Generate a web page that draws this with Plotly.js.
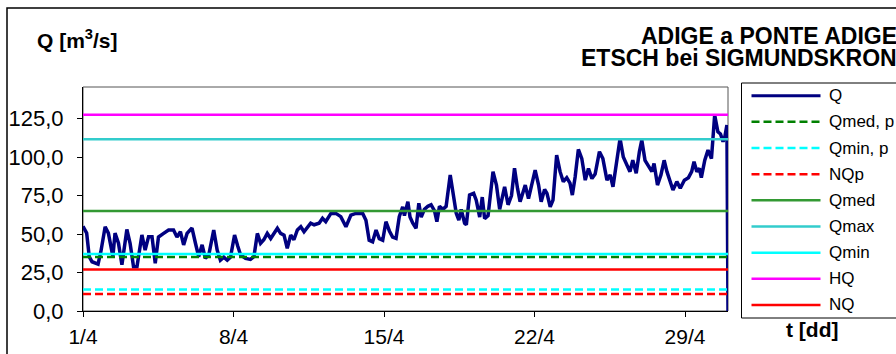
<!DOCTYPE html>
<html>
<head>
<meta charset="utf-8">
<script src="https://cdn.plot.ly/plotly-3.0.1.min.js"></script>
<style>
  html, body { margin: 0; padding: 0; background: #ffffff; }
  #chart { width: 896px; height: 354px; }
</style>
</head>
<body>
<div id="chart"></div>
<script>
// Discharge Q (m³/s); time in days counted from 1/4 00:00
const days = [
  0.00, 0.17, 0.29, 0.42, 0.70, 0.83, 1.03, 1.18, 1.39, 1.49, 1.65, 1.81,
  2.04, 2.19, 2.35, 2.51, 2.74, 2.89, 3.05, 3.21, 3.36, 3.51, 3.75, 3.98,
  4.21, 4.37, 4.53, 4.68, 4.84, 5.07, 5.23, 5.38, 5.54, 5.69, 5.85, 6.08,
  6.24, 6.39, 6.55, 6.71, 6.86, 7.05, 7.20, 7.33, 7.56, 7.79, 7.95, 8.11,
  8.26, 8.41, 8.57, 8.73, 9.04, 9.19, 9.35, 9.50, 9.66, 9.81, 9.97, 10.13,
  10.28, 10.44, 10.59, 10.75, 10.98, 11.14, 11.29, 11.53, 11.76, 11.99, 12.23, 12.46,
  12.69, 13.01, 13.16, 13.31, 13.47, 13.63, 13.78, 13.94, 14.09, 14.25, 14.40, 14.56,
  14.71, 14.87, 14.95, 15.11, 15.21, 15.34, 15.49, 15.62, 15.73, 15.88, 16.04, 16.19,
  16.35, 16.46, 16.58, 16.74, 16.89, 17.08, 17.20, 17.36, 17.48, 17.59, 17.75, 17.83,
  17.98, 18.17, 18.29, 18.45, 18.57, 18.68, 18.84, 19.07, 19.23, 19.38, 19.61, 19.77,
  19.93, 20.07, 20.21, 20.33, 20.57, 20.72, 21.03, 21.19, 21.31, 21.47, 21.58, 21.73,
  21.86, 22.03, 22.19, 22.34, 22.50, 22.65, 22.76, 22.89, 23.04, 23.20, 23.36, 23.51,
  23.67, 23.82, 24.02, 24.18, 24.37, 24.52, 24.65, 24.83, 24.98, 25.13, 25.32, 25.44,
  25.57, 25.73, 25.88, 25.99, 26.14, 26.30, 26.46, 26.56, 26.72, 26.88, 27.03, 27.16,
  27.31, 27.44, 27.62, 27.78, 27.97, 28.16, 28.31, 28.42, 28.55, 28.67, 28.76, 28.92,
  29.07, 29.23, 29.38, 29.53, 29.65, 29.77, 29.85, 29.95, 30.00
];
const flow = [
  55.0, 50.6, 35.3, 32.0, 30.5, 38.5, 54.7, 50.6, 35.3, 50.6, 44.0, 30.0,
  53.0, 44.0, 28.8, 28.8, 49.4, 39.6, 48.3, 48.3, 31.0, 48.0, 50.4, 52.6,
  52.6, 48.0, 51.5, 42.9, 50.4, 53.9, 44.0, 35.3, 43.0, 34.2, 36.5, 52.6,
  39.6, 33.0, 35.0, 33.0, 35.0, 49.4, 42.0, 36.4, 34.2, 33.5, 35.3, 50.4,
  44.0, 46.3, 50.4, 47.1, 53.7, 50.4, 49.3, 40.7, 49.3, 46.3, 52.6, 54.7,
  51.5, 54.7, 57.0, 56.0, 57.0, 60.2, 58.0, 63.4, 63.4, 61.3, 54.7, 62.3,
  63.4, 63.4, 59.0, 46.0, 45.0, 52.6, 47.0, 46.0, 58.0, 52.0, 48.0, 47.2,
  61.2, 67.7, 62.0, 71.0, 61.0, 57.0, 53.7, 70.0, 61.0, 66.0, 68.0, 69.0,
  65.0, 58.0, 68.0, 66.0, 68.0, 88.3, 76.4, 63.4, 59.0, 66.0, 57.0, 56.0,
  75.3, 76.4, 72.0, 61.0, 74.0, 60.0, 62.0, 90.5, 81.8, 66.0, 80.7, 69.0,
  75.0, 92.7, 79.6, 71.0, 81.8, 73.0, 91.5, 81.8, 71.0, 79.0, 76.4, 67.7,
  72.0, 101.3, 90.5, 84.0, 86.6, 83.0, 75.3, 87.0, 105.0, 99.0, 85.0, 92.6,
  86.0, 89.0, 103.5, 99.0, 85.0, 88.4, 80.7, 100.0, 112.0, 100.0, 94.6, 90.5,
  97.9, 89.5, 103.5, 111.0, 97.9, 93.7, 90.5, 95.8, 81.8, 88.4, 97.9, 90.5,
  84.0, 78.6, 84.0, 79.7, 85.0, 86.6, 90.5, 97.0, 90.5, 92.6, 86.6, 97.9,
  104.5, 99.0, 127.3, 116.4, 115.0, 110.0, 113.0, 120.8, 0.0
];

// Characteristic discharges (m³/s), drawn as horizontal levels
const refNames  = ['Qmed, p', 'Qmin, p', 'NQp', 'Qmed', 'Qmax', 'Qmin', 'HQ', 'NQ'];
const refValues = [35.0, 14.0, 11.0, 65.0, 111.5, 37.0, 127.5, 27.0];

// Time axis
const periodStart = 0;
const periodEnd = 30;
const tickDays   = [0, 7, 14, 21, 28];
const tickLabels = ['1/4', '8/4', '15/4', '22/4', '29/4'];
const yTicks = [0, 25, 50, 75, 100, 125];

// Line styles
const styles = {
  'Q':       { color: '#000080', width: 3.5, dash: 'solid' },
  'Qmed, p': { color: '#008000', width: 2.5, dash: '8px,4px' },
  'Qmin, p': { color: '#00ffff', width: 2.5, dash: '8px,4px' },
  'NQp':     { color: '#ff0000', width: 2.5, dash: '8px,4px' },
  'Qmed':    { color: '#339933', width: 2.5, dash: 'solid' },
  'Qmax':    { color: '#33cccc', width: 2.5, dash: 'solid' },
  'Qmin':    { color: '#00ffff', width: 2.5, dash: 'solid' },
  'HQ':      { color: '#ff00ff', width: 2.5, dash: 'solid' },
  'NQ':      { color: '#ff0000', width: 2.5, dash: 'solid' }
};

const FONT = 'Arial, "Liberation Sans", sans-serif';

const traces = [{
  type: 'scatter', mode: 'lines', name: 'Q',
  x: days, y: flow,
  line: { color: styles['Q'].color, width: styles['Q'].width, shape: 'linear' },
  showlegend: false, hoverinfo: 'x+y'
}];
refNames.forEach((name, i) => {
  traces.push({
    type: 'scatter', mode: 'lines', name: name,
    x: [periodStart, periodEnd], y: [refValues[i], refValues[i]],
    line: { color: styles[name].color, width: styles[name].width, dash: styles[name].dash },
    showlegend: false, hoverinfo: 'name+y'
  });
});

// Plot-area geometry in page pixels, used to place the frame, legend and labels
const M = { l: 83, r: 168, t: 87, b: 43 };
const W = 896, H = 354;
const pw = W - M.l - M.r, ph = H - M.t - M.b;
const px = x => (x - M.l) / pw;
const py = y => (H - M.b - y) / ph;

const shapes = [
  // outer chart border
  { type: 'rect', xref: 'paper', yref: 'paper', x0: px(7), x1: px(960), y0: py(420), y1: py(8),
    line: { color: '#000000', width: 1.5 }, fillcolor: 'rgba(0,0,0,0)', layer: 'below' },
  // plot-area frame
  { type: 'rect', xref: 'paper', yref: 'paper', x0: 0, x1: 1, y0: 0, y1: 1,
    line: { color: '#555555', width: 1 }, fillcolor: 'rgba(0,0,0,0)', layer: 'below' },
  // legend box
  { type: 'rect', xref: 'paper', yref: 'paper', x0: px(741.5), x1: px(960), y0: py(318), y1: py(83),
    line: { color: '#000000', width: 1 }, fillcolor: '#ffffff', layer: 'below' }
];

const annotations = [
  { text: '<b>Q [m<sup>3</sup>/s]</b>', xref: 'paper', yref: 'paper', x: px(35), y: py(39),
    xanchor: 'left', yanchor: 'middle', showarrow: false, font: { family: FONT, size: 21, color: '#000' } },
  { text: '<b>ADIGE a PONTE ADIGE</b>', xref: 'paper', yref: 'paper', x: px(899), y: py(35.5),
    xanchor: 'right', yanchor: 'middle', showarrow: false, font: { family: FONT, size: 23, color: '#000' } },
  { text: '<b>ETSCH bei SIGMUNDSKRON</b>', xref: 'paper', yref: 'paper', x: px(899), y: py(58),
    xanchor: 'right', yanchor: 'middle', showarrow: false, font: { family: FONT, size: 23, color: '#000' } },
  { text: '<b>t [dd]</b>', xref: 'paper', yref: 'paper', x: px(811.5), y: py(329),
    xanchor: 'center', yanchor: 'middle', showarrow: false, font: { family: FONT, size: 21, color: '#000' } }
];

// Legend entries: sample line plus label
const legendOrder = ['Q'].concat(refNames);
legendOrder.forEach((name, i) => {
  const yc = 95.7 + i * 26.16;
  const st = styles[name];
  shapes.push({ type: 'line', xref: 'paper', yref: 'paper',
    x0: px(751.5), x1: px(820.5), y0: py(yc), y1: py(yc),
    line: { color: st.color, width: Math.min(st.width, 3), dash: st.dash }, layer: 'above' });
  annotations.push({ text: name, xref: 'paper', yref: 'paper', x: px(827), y: py(yc),
    xanchor: 'left', yanchor: 'middle', showarrow: false,
    font: { family: FONT, size: 17, color: '#000' } });
});

const layout = {
  width: W, height: H,
  margin: M,
  paper_bgcolor: '#ffffff', plot_bgcolor: '#ffffff',
  separators: ',.',
  showlegend: false,
  font: { family: FONT, size: 20, color: '#000' },
  xaxis: {
    range: [periodStart, periodEnd],
    tickvals: tickDays, ticktext: tickLabels,
    ticks: 'outside', ticklen: 5, tickwidth: 1, tickcolor: '#000',
    showline: true, linecolor: '#000', linewidth: 1,
    showgrid: false, zeroline: false,
    ticklabelstandoff: 2,
    tickfont: { family: FONT, size: 21, color: '#000' }
  },
  yaxis: {
    range: [0, 145.5],
    tickvals: yTicks, tickformat: '.1f',
    ticks: 'outside', ticklen: 5, tickwidth: 1, tickcolor: '#000',
    showline: true, linecolor: '#000', linewidth: 1,
    showgrid: false, zeroline: false,
    ticklabelstandoff: 9,
    tickfont: { family: FONT, size: 22, color: '#000' }
  },
  shapes: shapes,
  annotations: annotations
};

Plotly.newPlot('chart', traces, layout, { displayModeBar: false, staticPlot: true });
</script>
</body>
</html>
